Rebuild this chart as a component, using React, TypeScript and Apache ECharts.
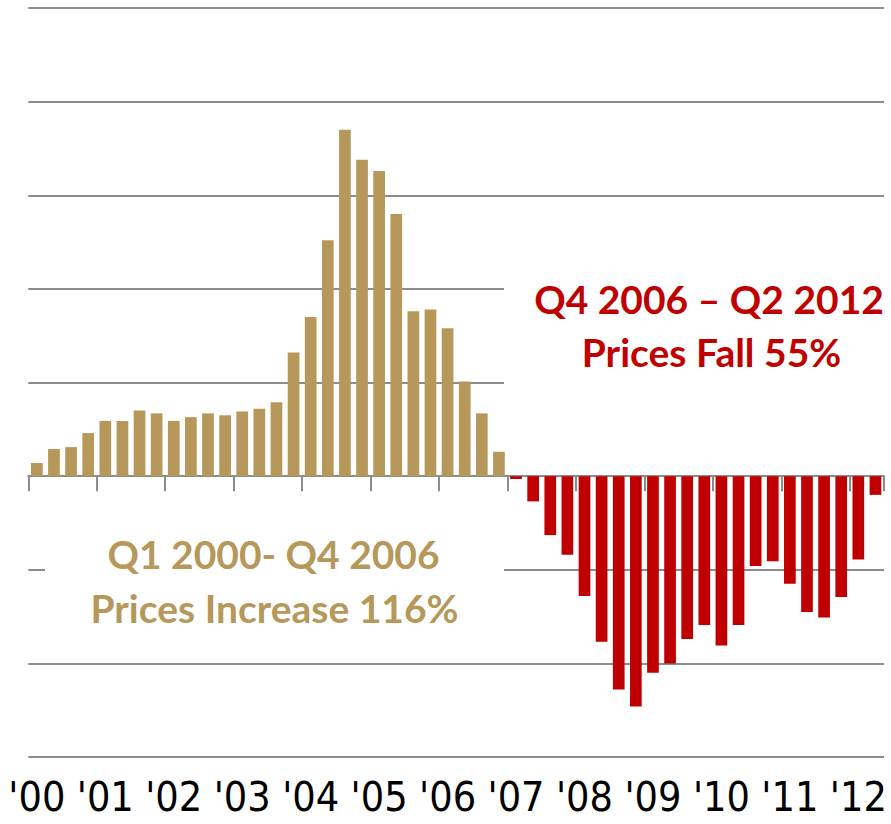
import React, { useEffect, useRef } from "react";
import * as echarts from "echarts";

const years = [2000, 2001, 2002, 2003, 2004, 2005, 2006, 2007, 2008, 2009, 2010, 2011, 2012];
const quarters = ["Q1", "Q2", "Q3", "Q4"];
const yearLabels = ["'00", "'01", "'02", "'03", "'04", "'05", "'06", "'07", "'08", "'09", "'10", "'11", "'12"];

// Q1 2000 - Q4 2006 (28 quarters), year-over-year change, %
const riseValues = [
  1.4, 2.9, 3.1, 4.6, 5.9, 5.9, 7.0, 6.7, 5.9, 6.3, 6.7, 6.5, 6.9, 7.2,
  7.9, 13.2, 17.0, 25.2, 37.0, 33.8, 32.6, 28.0, 17.6, 17.8, 15.8, 10.1, 6.7, 2.6,
];
// Q1 2007 - Q2 2012 (22 quarters)
const fallValues = [
  -0.3, -2.7, -6.3, -8.4, -12.8, -17.7, -22.8, -24.6, -21.0, -20.0, -17.4,
  -15.9, -18.1, -15.9, -9.6, -9.1, -11.5, -14.5, -15.1, -12.9, -8.9, -2.0,
];

const riseTitle = "Q1 2000- Q4 2006";
const riseNote = "Prices Increase 116%";
const fallTitle = "Q4 2006 \u2013 Q2 2012";
const fallNote = "Prices Fall 55%";

const TAN = "#B5985A";
const RED = "#C00000";
const GRID = "#8c8c8c";

export default function App() {
  const ref = useRef<HTMLDivElement>(null);

  useEffect(() => {
    if (!ref.current) return;
    const chart = echarts.init(ref.current, undefined, { renderer: "svg" });

    const total = riseValues.length + fallValues.length;
    const categories: string[] = [];
    for (const y of years) {
      for (const q of quarters) {
        if (categories.length < total) categories.push(`${q} ${y}`);
      }
    }
    const riseData = categories.map((_, i) => (i < riseValues.length ? riseValues[i] : "-"));
    const fallData = categories.map((_, i) =>
      i >= riseValues.length ? fallValues[i - riseValues.length] : "-"
    );

    const textFont = "Lato, 'Open Sans', sans-serif";

    chart.setOption({
      animation: false,
      backgroundColor: "#ffffff",
      grid: { left: 28.3, right: 7, top: 8, bottom: 67, containLabel: false },
      xAxis: [
        {
          type: "category",
          data: categories,
          position: "bottom",
          boundaryGap: true,
          axisLine: { show: true, onZero: true, lineStyle: { color: GRID, width: 2 } },
          axisTick: { show: true, interval: 3, length: 15, lineStyle: { color: GRID, width: 2 } },
          axisLabel: { show: false },
          splitLine: { show: false },
        },
        {
          type: "category",
          data: categories,
          position: "bottom",
          boundaryGap: true,
          axisLine: { show: false, onZero: false },
          axisTick: { show: false },
          splitLine: { show: false },
          axisLabel: {
            show: true,
            interval: 3,
            margin: 22,
            fontSize: 41,
            lineHeight: 36,
            color: "#000000",
            fontFamily: "'Liberation Sans Narrow', 'DejaVu Sans Condensed', Roboto, sans-serif",
            formatter: (_v: string, idx: number) => (idx % 4 === 0 ? yearLabels[idx / 4] : ""),
          },
        },
      ],
      yAxis: {
        type: "value",
        min: -30,
        max: 50,
        interval: 10,
        axisLine: { show: false },
        axisTick: { show: false },
        axisLabel: { show: false },
        splitLine: { show: true, lineStyle: { color: GRID, width: 2 } },
      },
      series: [
        {
          type: "bar",
          name: "Rise",
          xAxisIndex: 0,
          data: riseData,
          barWidth: 11.7,
          barGap: "-100%",
          itemStyle: { color: TAN },
        },
        {
          type: "bar",
          name: "Fall",
          xAxisIndex: 0,
          data: fallData,
          barWidth: 11.7,
          barGap: "-100%",
          itemStyle: { color: RED },
        },
      ],
      graphic: [
        {
          type: "rect",
          z: 100,
          shape: { x: 45, y: 520, width: 459, height: 124 },
          style: { fill: "#ffffff" },
        },
        {
          type: "rect",
          z: 100,
          shape: { x: 504, y: 262, width: 387, height: 134 },
          style: { fill: "#ffffff" },
        },
        {
          type: "text",
          z: 101,
          x: 273.5,
          y: 554,
          style: {
            text: riseTitle,
            fill: TAN,
            font: `bold 39px ${textFont}`,
            align: "center",
            verticalAlign: "middle",
          },
        },
        {
          type: "text",
          z: 101,
          x: 274.5,
          y: 607.7,
          style: {
            text: riseNote,
            fill: TAN,
            font: `bold 39px ${textFont}`,
            align: "center",
            verticalAlign: "middle",
          },
        },
        {
          type: "text",
          z: 101,
          x: 709,
          y: 298.5,
          style: {
            text: fallTitle,
            fill: RED,
            font: `bold 39px ${textFont}`,
            align: "center",
            verticalAlign: "middle",
          },
        },
        {
          type: "text",
          z: 101,
          x: 711.5,
          y: 352,
          style: {
            text: fallNote,
            fill: RED,
            font: `bold 39px ${textFont}`,
            align: "center",
            verticalAlign: "middle",
          },
        },
      ],
    });

    return () => chart.dispose();
  }, []);

  return (
    <div
      ref={ref}
      style={{ position: "fixed", left: 0, top: 0, width: 891, height: 824, background: "#fff" }}
    />
  );
}
